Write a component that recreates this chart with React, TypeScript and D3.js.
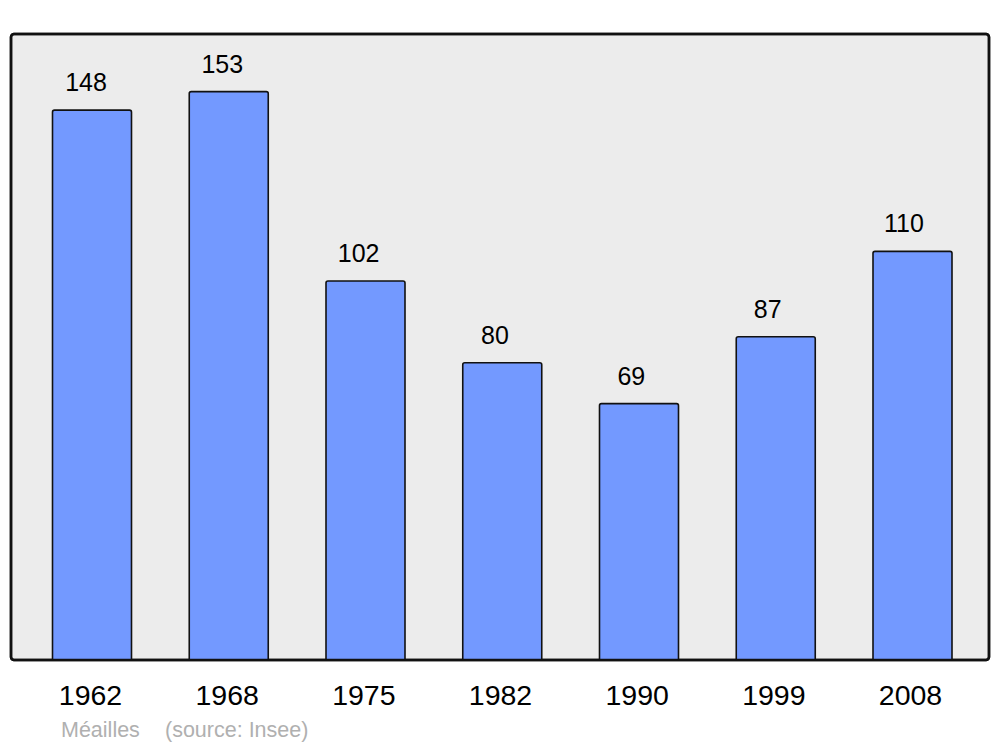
import React from "react";
import * as d3 from "d3";

const years = ["1962", "1968", "1975", "1982", "1990", "1999", "2008"];
const populations = [148, 153, 102, 80, 69, 87, 110];
const commune = "Méailles";
const source = "(source: Insee)";

export default function App() {
  const W = 1000, H = 747;
  const panel = { x: 11, y: 34, w: 978, h: 626 };
  const baseline = panel.y + panel.h;
  const y = d3.scaleLinear().domain([0, 168.5]).range([baseline, panel.y]);
  const x = d3.scalePoint<string>().domain(years).range([92, 912.5]);
  const xValLabel = d3.scalePoint<string>().domain(years).range([86, 904]);
  const xYearLabel = d3.scalePoint<string>().domain(years).range([90.5, 910.5]);
  const barW = 79;
  const font = "'Liberation Sans', Arial, sans-serif";
  return (
    <svg width={W} height={H} style={{ position: "absolute", left: 0, top: 0 }}>
      <rect x={0} y={0} width={W} height={H} fill="#ffffff" />
      <rect x={panel.x} y={panel.y} width={panel.w} height={panel.h} rx={3} fill="#ececec" stroke="#111" strokeWidth={2.5} />
      {years.map((yr, i) => {
        const cx = x(yr)!;
        const top = y(populations[i]);
        return (
          <g key={yr}>
            <path
              d={`M${cx - barW / 2},${baseline} L${cx - barW / 2},${top + 2} Q${cx - barW / 2},${top} ${cx - barW / 2 + 2},${top} L${cx + barW / 2 - 2},${top} Q${cx + barW / 2},${top} ${cx + barW / 2},${top + 2} L${cx + barW / 2},${baseline}`}
              fill="#7399ff"
              stroke="#111"
              strokeWidth={1.6}
            />
            <text x={xValLabel(yr)!} y={top - 19} textAnchor="middle" fontFamily={font} fontSize={25} fill="#000">
              {populations[i]}
            </text>
            <text x={xYearLabel(yr)!} y={705} textAnchor="middle" fontFamily={font} fontSize={28.5} fill="#000">
              {yr}
            </text>
          </g>
        );
      })}
      <rect x={panel.x} y={panel.y} width={panel.w} height={panel.h} rx={3} fill="none" stroke="#111" strokeWidth={2.5} />
      <text x={61} y={737} fontFamily={font} fontSize={21.5} fill="#b0b0b0">{commune}</text>
      <text x={165} y={737} fontFamily={font} fontSize={21.5} fill="#b0b0b0">{source}</text>
    </svg>
  );
}
